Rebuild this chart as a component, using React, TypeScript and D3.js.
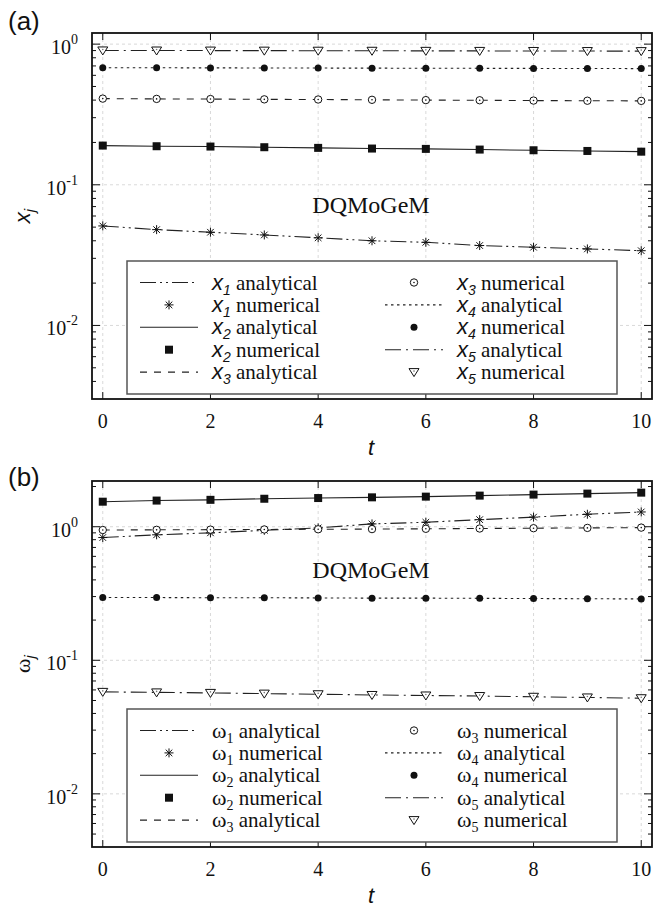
import React from 'react';
import * as d3 from 'd3';

// time steps where the numerical markers sit
const tSteps = [0, 1, 2, 3, 4, 5, 6, 7, 8, 9, 10];
const tTicks = [0, 2, 4, 6, 8, 10];
const decadeTicks = [1, 0.1, 0.01];
const decadeExponents = ['0', '-1', '-2'];

// panel (a): x_j
const x1Values = [0.051, 0.048, 0.046, 0.044, 0.042, 0.040, 0.039, 0.037, 0.036, 0.035, 0.034];
const x2Values = [0.190, 0.188, 0.187, 0.185, 0.183, 0.181, 0.180, 0.178, 0.176, 0.174, 0.172];
const x3Values = [0.410, 0.408, 0.407, 0.405, 0.404, 0.402, 0.400, 0.399, 0.397, 0.396, 0.395];
const x4Values = [0.680, 0.679, 0.678, 0.677, 0.676, 0.675, 0.674, 0.673, 0.672, 0.671, 0.670];
const x5Values = [0.902, 0.901, 0.900, 0.899, 0.898, 0.897, 0.896, 0.895, 0.894, 0.893, 0.892];

// panel (b): omega_j
const w1Values = [0.83, 0.87, 0.90, 0.94, 0.98, 1.05, 1.08, 1.13, 1.18, 1.24, 1.29];
const w2Values = [1.54, 1.57, 1.59, 1.62, 1.64, 1.66, 1.68, 1.71, 1.74, 1.77, 1.80];
const w3Values = [0.945, 0.948, 0.951, 0.954, 0.957, 0.960, 0.965, 0.970, 0.975, 0.980, 0.985];
const w4Values = [0.295, 0.295, 0.294, 0.294, 0.293, 0.292, 0.292, 0.291, 0.290, 0.289, 0.288];
const w5Values = [0.058, 0.0575, 0.057, 0.0563, 0.0557, 0.055, 0.0545, 0.054, 0.0533, 0.0527, 0.052];

const seriesIndex = ['1', '2', '3', '4', '5'];

// styling per series (index matches)
const dashes = ['16,4,2,4,2,4', '', '7,7', '2.5,3.5', '16,5,2,5'];
const markers = ['star', 'square', 'ring', 'dot', 'triangle'];

const serif = '"Liberation Serif", "Times New Roman", serif';
const sans = '"Liberation Sans", Arial, sans-serif';

const frameLeft = 92;
const frameRight = 652;
const frameH = 366;

const Marker = ({ kind, cx, cy }) => {
    if (kind === 'star') {
        return <path d={`M${cx - 4.5},${cy}h9M${cx},${cy - 4.5}v9M${cx - 3.3},${cy - 3.3}l6.6,6.6M${cx - 3.3},${cy + 3.3}l6.6,-6.6`}
            stroke="#111" strokeWidth={1} fill="none" />;
    }
    if (kind === 'square') {
        return <rect x={cx - 4} y={cy - 4} width={8} height={8} fill="#111" />;
    }
    if (kind === 'ring') {
        return <g>
            <circle cx={cx} cy={cy} r={3.7} fill="#fff" stroke="#111" strokeWidth={1} />
            <circle cx={cx} cy={cy} r={0.8} fill="#111" />
        </g>;
    }
    if (kind === 'dot') {
        return <circle cx={cx} cy={cy} r={3.5} fill="#111" />;
    }
    return <g>
        <path d={`M${cx - 5},${cy - 3.5}L${cx + 5},${cy - 3.5}L${cx},${cy + 4.5}Z`} fill="#fff" stroke="#111" strokeWidth={1} />
        <circle cx={cx} cy={cy - 1} r={0.8} fill="#777" />
    </g>;
};

const SymbolLabel = ({ symbol, idx, word, x, y }) => {
    const isX = symbol === 'x';
    return (
        <text x={x} y={y} fontFamily={serif} fontSize={21} fill="#111">
            <tspan fontFamily={isX ? sans : serif} fontStyle={isX ? 'italic' : 'normal'} fontSize={22}>{isX ? 'x' : 'ω'}</tspan>
            <tspan fontFamily={isX ? sans : serif} fontStyle={isX ? 'italic' : 'normal'} fontSize={14} dy={5}>{idx}</tspan>
            <tspan dy={-5}>{' ' + word}</tspan>
        </text>
    );
};

const Panel = ({ top, yDomain, series, symbol, panelLabel, panelLabelY, titleY }) => {
    const bottom = top + frameH;
    const x = d3.scaleLinear().domain([-0.2, 10.2]).range([frameLeft, frameRight]);
    const y = d3.scaleLog().domain(yDomain).range([bottom, top]);
    const line = d3.line<number>().x((d, i) => x(tSteps[i])).y(d => y(d));

    const minorTicks = [];
    [0.001, 0.01, 0.1, 1].forEach(dec => {
        for (let k = 2; k <= 9; k++) {
            const v = dec * k;
            if (v > yDomain[0] && v < yDomain[1]) minorTicks.push(v);
        }
    });

    // legend layout
    const legTop = top + 228;
    const legBottom = top + 361;
    const rowY = i => top + 249.5 + i * 22.4;
    const legendRows = [];
    series.forEach((vals, s) => {
        legendRows.push({ s, kind: 'line', word: 'analytical' });
        legendRows.push({ s, kind: 'marker', word: 'numerical' });
    });
    const columns = [
        { sx0: 140, sx1: 198, tx: 212 },
        { sx0: 385, sx1: 443, tx: 457 }
    ];

    return (
        <g>
            <text x={8} y={panelLabelY} fontFamily={sans} fontSize={26} fill="#111">{panelLabel}</text>

            {/* grid */}
            {tTicks.map(t => (
                <line key={'gx' + t} x1={x(t)} x2={x(t)} y1={top} y2={bottom} stroke="#cfcfcf" strokeWidth={0.8} strokeDasharray="3,3" />
            ))}
            {decadeTicks.map(v => (
                <line key={'gy' + v} x1={frameLeft} x2={frameRight} y1={y(v)} y2={y(v)} stroke="#cfcfcf" strokeWidth={0.8} strokeDasharray="3,3" />
            ))}

            {/* ticks */}
            {tTicks.map(t => (
                <g key={'tx' + t}>
                    <line x1={x(t)} x2={x(t)} y1={bottom} y2={bottom - 7} stroke="#111" />
                    <line x1={x(t)} x2={x(t)} y1={top} y2={top + 7} stroke="#111" />
                    <text x={x(t)} y={bottom + 29} textAnchor="middle" fontFamily={serif} fontSize={20} fill="#111">{t}</text>
                </g>
            ))}
            {decadeTicks.map((v, i) => (
                <g key={'ty' + v}>
                    <line x1={frameLeft} x2={frameLeft + 8} y1={y(v)} y2={y(v)} stroke="#111" />
                    <line x1={frameRight} x2={frameRight - 8} y1={y(v)} y2={y(v)} stroke="#111" />
                    <text x={78} y={y(v) + 10} textAnchor="end" fontFamily={serif} fontSize={20} fill="#111">
                        10<tspan fontSize={14} dy={-10}>{decadeExponents[i]}</tspan>
                    </text>
                </g>
            ))}
            {minorTicks.map(v => (
                <g key={'my' + v}>
                    <line x1={frameLeft} x2={frameLeft + 4} y1={y(v)} y2={y(v)} stroke="#111" />
                    <line x1={frameRight} x2={frameRight - 4} y1={y(v)} y2={y(v)} stroke="#111" />
                </g>
            ))}

            {/* curves */}
            {series.map((vals, s) => (
                <path key={'c' + s} d={line(vals)} fill="none" stroke="#222" strokeWidth={1.1}
                    strokeDasharray={dashes[s] || undefined} />
            ))}
            {series.map((vals, s) => vals.map((v, i) => (
                <Marker key={'m' + s + '-' + i} kind={markers[s]} cx={x(tSteps[i])} cy={y(v)} />
            )))}

            <text x={371} y={top + titleY} textAnchor="middle" fontFamily={serif} fontSize={24} fill="#111">DQMoGeM</text>

            {/* legend */}
            <rect x={127} y={legTop} width={490} height={legBottom - legTop} fill="#fff" stroke="#555" strokeWidth={1.5} />
            {legendRows.map((r, k) => {
                const col = columns[k < 5 ? 0 : 1];
                const ry = rowY(k % 5);
                return (
                    <g key={'l' + k}>
                        {r.kind === 'line'
                            ? <line x1={col.sx0} x2={col.sx1} y1={ry} y2={ry} stroke="#222" strokeWidth={1.1} strokeDasharray={dashes[r.s] || undefined} />
                            : <Marker kind={markers[r.s]} cx={(col.sx0 + col.sx1) / 2} cy={ry} />}
                        <SymbolLabel symbol={symbol} idx={seriesIndex[r.s]} word={r.word} x={col.tx} y={ry + 7} />
                    </g>
                );
            })}

            {/* frame */}
            <rect x={frameLeft} y={top} width={frameRight - frameLeft} height={frameH} fill="none" stroke="#111" strokeWidth={1.8} />

            {/* axis titles */}
            <text x={371} y={bottom + 56} textAnchor="middle" fontFamily={sans} fontStyle="italic" fontSize={22} fill="#111">t</text>
            <g transform={`translate(30, ${top + frameH / 2}) rotate(-90)`}>
                <text x={0} y={0} textAnchor="middle" fill="#111">
                    <tspan fontFamily={symbol === 'x' ? sans : serif} fontStyle={symbol === 'x' ? 'italic' : 'normal'} fontSize={22}>{symbol === 'x' ? 'x' : 'ω'}</tspan>
                    <tspan fontFamily={sans} fontStyle="italic" fontSize={15} dy={5}>j</tspan>
                </text>
            </g>
        </g>
    );
};

export default function App() {
    return (
        <svg width={657} height={906} style={{ position: 'absolute', left: 0, top: 0, background: '#fff' }}>
            <rect width={657} height={906} fill="#fff" />
            <Panel top={33} yDomain={[0.003, 1.2]} symbol="x"
                series={[x1Values, x2Values, x3Values, x4Values, x5Values]}
                panelLabel="(a)" panelLabelY={30} titleY={180} />
            <Panel top={481} yDomain={[0.004, 2.2]} symbol="w"
                series={[w1Values, w2Values, w3Values, w4Values, w5Values]}
                panelLabel="(b)" panelLabelY={486} titleY={97} />
        </svg>
    );
}
